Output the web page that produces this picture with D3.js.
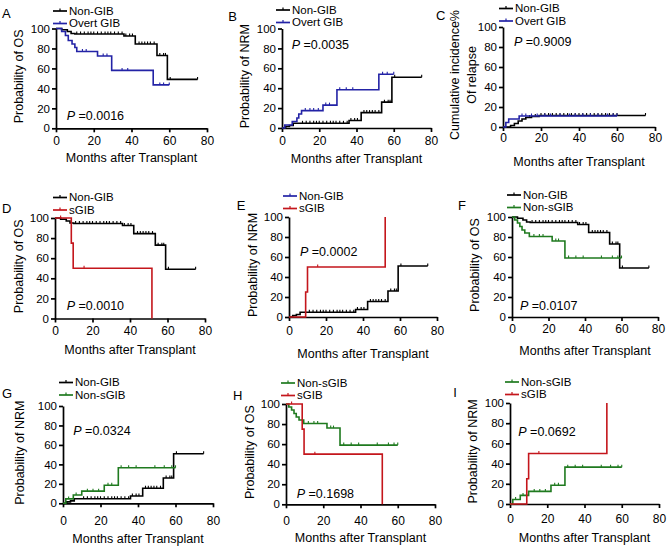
<!DOCTYPE html>
<html>
<head>
<meta charset="utf-8">
<script src="https://cdn.jsdelivr.net/npm/d3@7"></script>
<style>
  body { margin: 0; background: #fff; }
  text { font-family: "Liberation Sans", Arial, sans-serif; fill: #000; }
</style>
</head>
<body>
<svg id="fig" width="669" height="546"></svg>
<script>
// tick labels
const monthTicks = [0, 20, 40, 60, 80];
const pctTicks = [0, 20, 40, 60, 80, 100];

// overall survival (step times in months, value in %)
const osNonGibT = [0, 3, 6, 8, 10, 36, 42, 53.5, 59, 75];
const osNonGibV = [100, 98.7, 97, 95, 94.5, 92.5, 84.5, 73, 49, 49];
const osNonGibC = [11, 13, 15, 17, 18.5, 20, 22, 24, 26, 27.5, 29, 31, 33, 35, 37, 39, 40.5, 44, 45.5, 47, 48.5, 50, 52, 55, 57, 58, 60.5, 75];

const osOvertT = [0, 3, 5, 6.5, 8.5, 10, 11, 22, 29.5, 51.5, 60];
const osOvertV = [100, 97, 93, 88, 84.5, 81, 77, 72.5, 58, 43.5, 43.5];
const osOvertC = [14, 16, 25, 27, 35, 38, 55, 57, 60];

const osSgibT = [0, 8.7, 9.7, 51.7];
const osSgibV = [100, 75, 50, 0];
const osSgibC = [3, 15.5];

const osNonSgibT = [0, 1.5, 3, 4.3, 5.5, 7, 9.5, 22, 29, 60];
const osNonSgibV = [100, 97, 94, 90.5, 87, 84, 80.5, 76, 59, 59];
const osNonSgibC = [12, 15, 17, 24, 25.5, 31, 35, 39, 49, 55, 58, 60];

// non-relapse mortality
const nrmNonGibT = [0, 2, 4, 6, 36, 42.5, 53.5, 59, 75];
const nrmNonGibV = [0, 1.5, 2.5, 4.7, 7.5, 15.5, 26, 51, 51];
const nrmNonGibC = [11, 13, 15, 17, 18.5, 20, 22, 24, 26, 27.5, 29, 31, 33, 35, 37, 39, 40.5, 44, 45.5, 47, 48.5, 50, 52, 55, 57, 58, 60.5, 75];

const nrmOvertT = [0, 1.5, 5.5, 8, 9, 10.5, 22, 29.5, 52, 60];
const nrmOvertV = [0, 3, 6.5, 10, 14, 17.5, 23, 38.5, 54, 54];
const nrmOvertC = [12.5, 15, 17, 19.5, 23.5, 25.5, 31, 34.5, 38, 54, 56.5, 60];

const nrmSgibT = [0, 9, 10, 52];
const nrmSgibV = [0, 25, 50, 100];
const nrmSgibC = [15.5];

const nrmNonSgibT = [0, 1.5, 5.5, 10, 22, 29.5, 60];
const nrmNonSgibV = [0, 4.5, 8.5, 12.5, 18.5, 36.5, 36.5];
const nrmNonSgibC = [3, 7, 13, 16, 19, 24, 26, 31, 35, 39, 49, 54, 58, 60];

// cumulative incidence of relapse
const relNonGibT = [0, 4, 6, 8, 10, 12, 15, 19, 75];
const relNonGibV = [0, 1.5, 3.5, 6, 8, 9.5, 10.5, 11.5, 11.5];
const relNonGibC = [14, 17, 20, 22, 24, 26, 28, 30, 32, 34, 36, 38, 40, 42, 44, 46, 48, 50, 52, 54, 56, 58, 60, 75];

const relOvertT = [0, 1.5, 3, 8.5, 60];
const relOvertV = [0, 4.5, 8, 11, 11];
const relOvertC = [10, 12, 15, 18, 22, 25, 30, 35, 38, 42, 46, 50, 55, 58, 60];

const BLACK = "#000", BLUE = "#2323a6", RED = "#c4161c", GREEN = "#1f7a1f";

const mk = (t, v, c) => ({ t, v, c });
const osNonGib = mk(osNonGibT, osNonGibV, osNonGibC);
const osOvert = mk(osOvertT, osOvertV, osOvertC);
const osSgib = mk(osSgibT, osSgibV, osSgibC);
const osNonSgib = mk(osNonSgibT, osNonSgibV, osNonSgibC);
const nrmNonGib = mk(nrmNonGibT, nrmNonGibV, nrmNonGibC);
const nrmOvert = mk(nrmOvertT, nrmOvertV, nrmOvertC);
const nrmSgib = mk(nrmSgibT, nrmSgibV, nrmSgibC);
const nrmNonSgib = mk(nrmNonSgibT, nrmNonSgibV, nrmNonSgibC);
const relNonGib = mk(relNonGibT, relNonGibV, relNonGibC);
const relOvert = mk(relOvertT, relOvertV, relOvertC);

// layout of the 9 panels (pixel positions)
const panels = [
  { id: "A", box: [56, 207, 28.5, 128.3], letter: [2, 18.3], leg: [53, 14.5, 27], p: ["0.0016", 66.7, 120], yt: [18.7], pad: 4.5, xt: 162,
    series: [["Non-GIB", osNonGib, BLACK], ["Overt GIB", osOvert, BLUE]], ylab: ["Probability of OS"] },
  { id: "B", box: [282, 431, 28.5, 128], letter: [228.3, 20.7], leg: [276, 13.5, 26], p: ["0.0035", 291.7, 49.3], yt: [245], pad: 4.5, xt: 162.5,
    series: [["Non-GIB", nrmNonGib, BLACK], ["Overt GIB", nrmOvert, BLUE]], ylab: ["Probability of NRM"] },
  { id: "C", box: [503, 655, 27, 127], letter: [436, 20], leg: [499, 12, 24.5], p: ["0.9009", 514, 46], yt: [455, 471.5], pad: 2.5, xt: 165.7,
    series: [["Non-GIB", relNonGib, BLACK], ["Overt GIB", relOvert, BLUE]], ylab: ["Cumulative incidence%", "Of relapse"] },
  { id: "D", box: [55, 205, 218, 318.5], letter: [2, 212.7], leg: [53, 201, 213.5], p: ["0.0010", 66.7, 310], yt: [19], pad: 4, xt: 354,
    series: [["Non-GIB", osNonGib, BLACK], ["sGIB", osSgib, RED]], ylab: ["Probability of OS"] },
  { id: "E", box: [289, 437, 217, 317], letter: [236.7, 210], leg: [283, 199.5, 212], p: ["0.0002", 300, 256], yt: [252.5], pad: 5.5, xt: 358,
    series: [["Non-GIB", nrmNonGib, BLACK, BLUE], ["sGIB", nrmSgib, RED]], ylab: ["Probability of NRM"] },
  { id: "F", box: [512, 658, 217, 317], letter: [458, 210], leg: [507, 198.5, 211], p: ["0.0107", 520, 310], yt: [475], pad: 3.5, xt: 355,
    series: [["Non-GIB", osNonGib, BLACK], ["Non-sGIB", osNonSgib, GREEN]], ylab: ["Probability of OS"] },
  { id: "G", box: [63, 213, 406, 503.3], letter: [2, 398.3], leg: [59, 386, 398.5], p: ["0.0324", 73.3, 435], yt: [19.2], pad: 9.5, xt: 542.5,
    series: [["Non-GIB", nrmNonGib, BLACK], ["Non-sGIB", nrmNonSgib, GREEN]], ylab: ["Probability of NRM"] },
  { id: "H", box: [286, 435, 404, 504.3], letter: [233, 400], leg: [281, 386.5, 399], p: ["0.1698", 296.7, 498.3], yt: [250], pad: 8, xt: 541.7,
    series: [["Non-sGIB", osNonSgib, GREEN], ["sGIB", osSgib, RED]], ylab: ["Probability of OS"] },
  { id: "I", box: [510, 659, 403, 504], letter: [453.3, 397.3], leg: [505, 385.5, 398], p: ["0.0692", 518.3, 436], yt: [473], pad: 6.5, xt: 541.7,
    series: [["Non-sGIB", nrmNonSgib, GREEN], ["sGIB", nrmSgib, RED]], ylab: ["Probability of NRM"] }
];

const svg = d3.select("#fig");

function valueAt (s, t) {
  const i = d3.bisectRight(s.t, t) - 1;
  return s.v[Math.max(0, i)];
}

panels.forEach(function (pn) {
  const [x0, x1, yT, yB] = pn.box;
  const x = d3.scaleLinear().domain([0, 80]).range([x0, x1]);
  const y = d3.scaleLinear().domain([0, 100]).range([yB, yT]);
  const g = svg.append("g");

  // axes
  const ax = g.append("g")
    .attr("transform", "translate(0," + yB + ")")
    .call(d3.axisBottom(x).tickValues(monthTicks).tickSize(4).tickSizeOuter(0).tickPadding(pn.pad));
  const ay = g.append("g")
    .attr("transform", "translate(" + x0 + ",0)")
    .call(d3.axisLeft(y).tickValues(pctTicks).tickSize(4).tickSizeOuter(0).tickPadding(2));
  ax.selectAll("text").style("font-size", "12px");
  ay.selectAll("text").style("font-size", "11.5px");
  g.selectAll(".domain, .tick line").attr("stroke", "#000").attr("stroke-width", 1.7);
  g.selectAll(".tick text").attr("font-family", null).style("fill", "#000");

  // curves
  const line = d3.line().curve(d3.curveStepAfter)
    .x(d => x(d[0])).y(d => y(d[1]));
  pn.series.forEach(function (sr) {
    const s = sr[1];
    g.append("path")
      .attr("d", line(d3.zip(s.t, s.v)))
      .attr("fill", "none")
      .attr("stroke", sr[2])
      .attr("stroke-width", 1.6);
    g.selectAll(null)
      .data(s.c)
      .enter().append("line")
      .attr("x1", d => x(d)).attr("x2", d => x(d))
      .attr("y1", d => y(valueAt(s, d)) - 2.5)
      .attr("y2", d => y(valueAt(s, d)))
      .attr("stroke", sr[2])
      .attr("stroke-width", 1.1);
  });

  // legend
  pn.series.forEach(function (sr, i) {
    const by = pn.leg[i + 1];
    const col = sr[3] || sr[2];
    const lx = pn.leg[0];
    g.append("line").attr("x1", lx).attr("x2", lx + 14)
      .attr("y1", by - 3.5).attr("y2", by - 3.5)
      .attr("stroke", col).attr("stroke-width", 1.7);
    g.append("line").attr("x1", lx + 7).attr("x2", lx + 7)
      .attr("y1", by - 6).attr("y2", by - 3.5)
      .attr("stroke", col).attr("stroke-width", 1.2);
    g.append("text").attr("x", lx + 16).attr("y", by)
      .style("font-size", "11.5px").text(sr[0]);
  });

  // panel letter
  g.append("text").attr("x", pn.letter[0]).attr("y", pn.letter[1])
    .style("font-size", "13px").text(pn.id);

  // p value
  const pt = g.append("text").attr("x", pn.p[1]).attr("y", pn.p[2]).style("font-size", "12.5px");
  pt.append("tspan").style("font-style", "italic").text("P");
  pt.append("tspan").text(" =" + pn.p[0]);

  // axis titles
  g.append("text")
    .attr("x", (x0 + x1) / 2).attr("y", pn.xt)
    .attr("text-anchor", "middle").style("font-size", "12.5px")
    .text("Months after Transplant");
  const cy = (yT + yB) / 2 - 2;
  pn.ylab.forEach(function (lab, i) {
    g.append("text")
      .attr("transform", "translate(" + pn.yt[i] + "," + cy + ") rotate(-90)")
      .attr("text-anchor", "middle").attr("dy", "0.35em")
      .style("font-size", "12.5px")
      .text(lab);
  });
});
</script>
</body>
</html>
